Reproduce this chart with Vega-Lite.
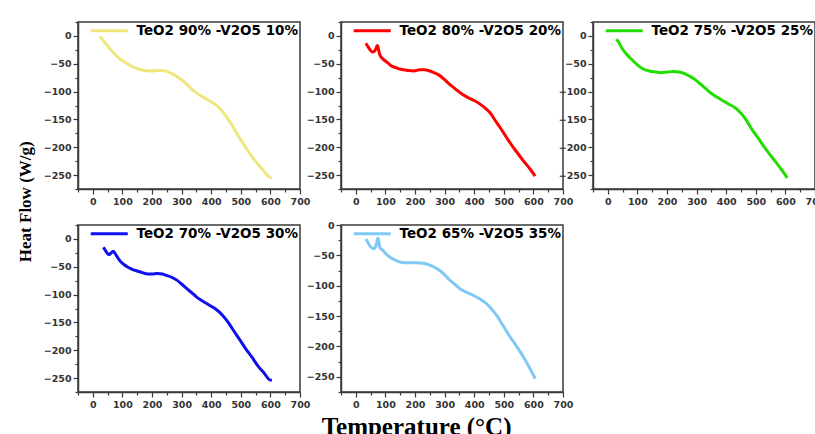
{
  "$schema": "https://vega.github.io/schema/vega-lite/v6.json",
  "background": "white",
  "padding": {"left": 17, "top": 16, "right": 0, "bottom": 0},
  "config": {
    "view": {"stroke": "#3a3a3a", "strokeWidth": 1.5},
    "axis": {"grid": false, "title": null, "domainColor": "#3a3a3a", "domainWidth": 1.5, "tickColor": "#3a3a3a", "tickWidth": 1.2, "labelFont": "DejaVu Sans", "labelFontWeight": "bold", "labelFontSize": 9.5, "labelColor": "#333", "labelPadding": 2, "labelFlush": false, "labelOverlap": false},
    "legend": {"orient": "top-right", "offset": 2, "padding": 0, "symbolType": "M-1,0H6.4", "symbolSize": 100, "symbolStrokeWidth": 3, "labelFont": "DejaVu Sans", "labelFontWeight": "bold", "labelFontSize": 13.5, "labelColor": "black", "labelOffset": 34, "labelLimit": 400}
  },
  "data": {"values": [
    {"s": "TeO2 90% -V2O5 10%", "T": 24, "V": -1},
    {"s": "TeO2 90% -V2O5 10%", "T": 35, "V": -8},
    {"s": "TeO2 90% -V2O5 10%", "T": 50, "V": -18},
    {"s": "TeO2 90% -V2O5 10%", "T": 63, "V": -26},
    {"s": "TeO2 90% -V2O5 10%", "T": 80, "V": -36},
    {"s": "TeO2 90% -V2O5 10%", "T": 107, "V": -47},
    {"s": "TeO2 90% -V2O5 10%", "T": 130, "V": -54},
    {"s": "TeO2 90% -V2O5 10%", "T": 151, "V": -59},
    {"s": "TeO2 90% -V2O5 10%", "T": 175, "V": -62},
    {"s": "TeO2 90% -V2O5 10%", "T": 200, "V": -63},
    {"s": "TeO2 90% -V2O5 10%", "T": 217, "V": -62},
    {"s": "TeO2 90% -V2O5 10%", "T": 235, "V": -62},
    {"s": "TeO2 90% -V2O5 10%", "T": 251, "V": -64},
    {"s": "TeO2 90% -V2O5 10%", "T": 275, "V": -70},
    {"s": "TeO2 90% -V2O5 10%", "T": 295, "V": -77},
    {"s": "TeO2 90% -V2O5 10%", "T": 320, "V": -88},
    {"s": "TeO2 90% -V2O5 10%", "T": 339, "V": -98},
    {"s": "TeO2 90% -V2O5 10%", "T": 360, "V": -106},
    {"s": "TeO2 90% -V2O5 10%", "T": 383, "V": -113},
    {"s": "TeO2 90% -V2O5 10%", "T": 405, "V": -120},
    {"s": "TeO2 90% -V2O5 10%", "T": 425, "V": -128},
    {"s": "TeO2 90% -V2O5 10%", "T": 449, "V": -143},
    {"s": "TeO2 90% -V2O5 10%", "T": 470, "V": -160},
    {"s": "TeO2 90% -V2O5 10%", "T": 490, "V": -178},
    {"s": "TeO2 90% -V2O5 10%", "T": 516, "V": -200},
    {"s": "TeO2 90% -V2O5 10%", "T": 535, "V": -215},
    {"s": "TeO2 90% -V2O5 10%", "T": 554, "V": -228},
    {"s": "TeO2 90% -V2O5 10%", "T": 575, "V": -241},
    {"s": "TeO2 90% -V2O5 10%", "T": 598, "V": -254},
    {"s": "TeO2 90% -V2O5 10%", "T": 605, "V": -255},

    {"s": "TeO2 80% -V2O5 20%", "T": 34, "V": -13},
    {"s": "TeO2 80% -V2O5 20%", "T": 42, "V": -20},
    {"s": "TeO2 80% -V2O5 20%", "T": 50, "V": -26},
    {"s": "TeO2 80% -V2O5 20%", "T": 56, "V": -29},
    {"s": "TeO2 80% -V2O5 20%", "T": 64, "V": -27},
    {"s": "TeO2 80% -V2O5 20%", "T": 70, "V": -20},
    {"s": "TeO2 80% -V2O5 20%", "T": 73, "V": -17},
    {"s": "TeO2 80% -V2O5 20%", "T": 77, "V": -25},
    {"s": "TeO2 80% -V2O5 20%", "T": 82, "V": -35},
    {"s": "TeO2 80% -V2O5 20%", "T": 95, "V": -43},
    {"s": "TeO2 80% -V2O5 20%", "T": 105, "V": -47},
    {"s": "TeO2 80% -V2O5 20%", "T": 118, "V": -53},
    {"s": "TeO2 80% -V2O5 20%", "T": 135, "V": -57},
    {"s": "TeO2 80% -V2O5 20%", "T": 152, "V": -60},
    {"s": "TeO2 80% -V2O5 20%", "T": 175, "V": -62},
    {"s": "TeO2 80% -V2O5 20%", "T": 196, "V": -63},
    {"s": "TeO2 80% -V2O5 20%", "T": 215, "V": -61},
    {"s": "TeO2 80% -V2O5 20%", "T": 230, "V": -61},
    {"s": "TeO2 80% -V2O5 20%", "T": 250, "V": -63},
    {"s": "TeO2 80% -V2O5 20%", "T": 264, "V": -66},
    {"s": "TeO2 80% -V2O5 20%", "T": 280, "V": -70},
    {"s": "TeO2 80% -V2O5 20%", "T": 297, "V": -77},
    {"s": "TeO2 80% -V2O5 20%", "T": 315, "V": -86},
    {"s": "TeO2 80% -V2O5 20%", "T": 331, "V": -93},
    {"s": "TeO2 80% -V2O5 20%", "T": 355, "V": -103},
    {"s": "TeO2 80% -V2O5 20%", "T": 376, "V": -110},
    {"s": "TeO2 80% -V2O5 20%", "T": 400, "V": -116},
    {"s": "TeO2 80% -V2O5 20%", "T": 421, "V": -123},
    {"s": "TeO2 80% -V2O5 20%", "T": 440, "V": -131},
    {"s": "TeO2 80% -V2O5 20%", "T": 455, "V": -139},
    {"s": "TeO2 80% -V2O5 20%", "T": 470, "V": -151},
    {"s": "TeO2 80% -V2O5 20%", "T": 488, "V": -165},
    {"s": "TeO2 80% -V2O5 20%", "T": 510, "V": -183},
    {"s": "TeO2 80% -V2O5 20%", "T": 533, "V": -201},
    {"s": "TeO2 80% -V2O5 20%", "T": 550, "V": -213},
    {"s": "TeO2 80% -V2O5 20%", "T": 567, "V": -225},
    {"s": "TeO2 80% -V2O5 20%", "T": 590, "V": -240},
    {"s": "TeO2 80% -V2O5 20%", "T": 606, "V": -252},

    {"s": "TeO2 75% -V2O5 25%", "T": 29, "V": -6},
    {"s": "TeO2 75% -V2O5 25%", "T": 35, "V": -10},
    {"s": "TeO2 75% -V2O5 25%", "T": 49, "V": -23},
    {"s": "TeO2 75% -V2O5 25%", "T": 65, "V": -34},
    {"s": "TeO2 75% -V2O5 25%", "T": 84, "V": -44},
    {"s": "TeO2 75% -V2O5 25%", "T": 100, "V": -52},
    {"s": "TeO2 75% -V2O5 25%", "T": 118, "V": -59},
    {"s": "TeO2 75% -V2O5 25%", "T": 140, "V": -63},
    {"s": "TeO2 75% -V2O5 25%", "T": 164, "V": -65},
    {"s": "TeO2 75% -V2O5 25%", "T": 178, "V": -66},
    {"s": "TeO2 75% -V2O5 25%", "T": 200, "V": -65},
    {"s": "TeO2 75% -V2O5 25%", "T": 222, "V": -64},
    {"s": "TeO2 75% -V2O5 25%", "T": 240, "V": -65},
    {"s": "TeO2 75% -V2O5 25%", "T": 256, "V": -67},
    {"s": "TeO2 75% -V2O5 25%", "T": 275, "V": -72},
    {"s": "TeO2 75% -V2O5 25%", "T": 291, "V": -77},
    {"s": "TeO2 75% -V2O5 25%", "T": 310, "V": -85},
    {"s": "TeO2 75% -V2O5 25%", "T": 325, "V": -92},
    {"s": "TeO2 75% -V2O5 25%", "T": 342, "V": -100},
    {"s": "TeO2 75% -V2O5 25%", "T": 360, "V": -107},
    {"s": "TeO2 75% -V2O5 25%", "T": 385, "V": -115},
    {"s": "TeO2 75% -V2O5 25%", "T": 406, "V": -122},
    {"s": "TeO2 75% -V2O5 25%", "T": 430, "V": -129},
    {"s": "TeO2 75% -V2O5 25%", "T": 452, "V": -140},
    {"s": "TeO2 75% -V2O5 25%", "T": 470, "V": -153},
    {"s": "TeO2 75% -V2O5 25%", "T": 486, "V": -167},
    {"s": "TeO2 75% -V2O5 25%", "T": 510, "V": -185},
    {"s": "TeO2 75% -V2O5 25%", "T": 532, "V": -202},
    {"s": "TeO2 75% -V2O5 25%", "T": 555, "V": -218},
    {"s": "TeO2 75% -V2O5 25%", "T": 578, "V": -234},
    {"s": "TeO2 75% -V2O5 25%", "T": 595, "V": -246},
    {"s": "TeO2 75% -V2O5 25%", "T": 606, "V": -255},

    {"s": "TeO2 70% -V2O5 30%", "T": 36, "V": -15},
    {"s": "TeO2 70% -V2O5 30%", "T": 44, "V": -22},
    {"s": "TeO2 70% -V2O5 30%", "T": 51, "V": -27},
    {"s": "TeO2 70% -V2O5 30%", "T": 56, "V": -28},
    {"s": "TeO2 70% -V2O5 30%", "T": 62, "V": -25},
    {"s": "TeO2 70% -V2O5 30%", "T": 69, "V": -22},
    {"s": "TeO2 70% -V2O5 30%", "T": 75, "V": -26},
    {"s": "TeO2 70% -V2O5 30%", "T": 80, "V": -30},
    {"s": "TeO2 70% -V2O5 30%", "T": 91, "V": -39},
    {"s": "TeO2 70% -V2O5 30%", "T": 105, "V": -46},
    {"s": "TeO2 70% -V2O5 30%", "T": 119, "V": -51},
    {"s": "TeO2 70% -V2O5 30%", "T": 135, "V": -55},
    {"s": "TeO2 70% -V2O5 30%", "T": 152, "V": -58},
    {"s": "TeO2 70% -V2O5 30%", "T": 170, "V": -61},
    {"s": "TeO2 70% -V2O5 30%", "T": 185, "V": -63},
    {"s": "TeO2 70% -V2O5 30%", "T": 200, "V": -63},
    {"s": "TeO2 70% -V2O5 30%", "T": 218, "V": -62},
    {"s": "TeO2 70% -V2O5 30%", "T": 235, "V": -63},
    {"s": "TeO2 70% -V2O5 30%", "T": 251, "V": -66},
    {"s": "TeO2 70% -V2O5 30%", "T": 267, "V": -69},
    {"s": "TeO2 70% -V2O5 30%", "T": 284, "V": -74},
    {"s": "TeO2 70% -V2O5 30%", "T": 300, "V": -81},
    {"s": "TeO2 70% -V2O5 30%", "T": 317, "V": -89},
    {"s": "TeO2 70% -V2O5 30%", "T": 335, "V": -97},
    {"s": "TeO2 70% -V2O5 30%", "T": 350, "V": -104},
    {"s": "TeO2 70% -V2O5 30%", "T": 372, "V": -112},
    {"s": "TeO2 70% -V2O5 30%", "T": 394, "V": -119},
    {"s": "TeO2 70% -V2O5 30%", "T": 415, "V": -126},
    {"s": "TeO2 70% -V2O5 30%", "T": 438, "V": -137},
    {"s": "TeO2 70% -V2O5 30%", "T": 455, "V": -148},
    {"s": "TeO2 70% -V2O5 30%", "T": 471, "V": -161},
    {"s": "TeO2 70% -V2O5 30%", "T": 495, "V": -180},
    {"s": "TeO2 70% -V2O5 30%", "T": 515, "V": -196},
    {"s": "TeO2 70% -V2O5 30%", "T": 537, "V": -212},
    {"s": "TeO2 70% -V2O5 30%", "T": 559, "V": -229},
    {"s": "TeO2 70% -V2O5 30%", "T": 580, "V": -242},
    {"s": "TeO2 70% -V2O5 30%", "T": 597, "V": -253},
    {"s": "TeO2 70% -V2O5 30%", "T": 605, "V": -254},

    {"s": "TeO2 65% -V2O5 35%", "T": 34, "V": -23},
    {"s": "TeO2 65% -V2O5 35%", "T": 40, "V": -28},
    {"s": "TeO2 65% -V2O5 35%", "T": 47, "V": -34},
    {"s": "TeO2 65% -V2O5 35%", "T": 55, "V": -38},
    {"s": "TeO2 65% -V2O5 35%", "T": 61, "V": -39},
    {"s": "TeO2 65% -V2O5 35%", "T": 67, "V": -36},
    {"s": "TeO2 65% -V2O5 35%", "T": 71, "V": -28},
    {"s": "TeO2 65% -V2O5 35%", "T": 74, "V": -22},
    {"s": "TeO2 65% -V2O5 35%", "T": 77, "V": -24},
    {"s": "TeO2 65% -V2O5 35%", "T": 81, "V": -37},
    {"s": "TeO2 65% -V2O5 35%", "T": 92, "V": -42},
    {"s": "TeO2 65% -V2O5 35%", "T": 103, "V": -48},
    {"s": "TeO2 65% -V2O5 35%", "T": 115, "V": -53},
    {"s": "TeO2 65% -V2O5 35%", "T": 130, "V": -57},
    {"s": "TeO2 65% -V2O5 35%", "T": 149, "V": -61},
    {"s": "TeO2 65% -V2O5 35%", "T": 165, "V": -62},
    {"s": "TeO2 65% -V2O5 35%", "T": 183, "V": -62},
    {"s": "TeO2 65% -V2O5 35%", "T": 205, "V": -62},
    {"s": "TeO2 65% -V2O5 35%", "T": 228, "V": -63},
    {"s": "TeO2 65% -V2O5 35%", "T": 250, "V": -66},
    {"s": "TeO2 65% -V2O5 35%", "T": 267, "V": -70},
    {"s": "TeO2 65% -V2O5 35%", "T": 284, "V": -75},
    {"s": "TeO2 65% -V2O5 35%", "T": 300, "V": -82},
    {"s": "TeO2 65% -V2O5 35%", "T": 318, "V": -91},
    {"s": "TeO2 65% -V2O5 35%", "T": 335, "V": -98},
    {"s": "TeO2 65% -V2O5 35%", "T": 352, "V": -105},
    {"s": "TeO2 65% -V2O5 35%", "T": 375, "V": -111},
    {"s": "TeO2 65% -V2O5 35%", "T": 397, "V": -116},
    {"s": "TeO2 65% -V2O5 35%", "T": 420, "V": -122},
    {"s": "TeO2 65% -V2O5 35%", "T": 442, "V": -130},
    {"s": "TeO2 65% -V2O5 35%", "T": 460, "V": -139},
    {"s": "TeO2 65% -V2O5 35%", "T": 476, "V": -149},
    {"s": "TeO2 65% -V2O5 35%", "T": 498, "V": -166},
    {"s": "TeO2 65% -V2O5 35%", "T": 521, "V": -184},
    {"s": "TeO2 65% -V2O5 35%", "T": 545, "V": -201},
    {"s": "TeO2 65% -V2O5 35%", "T": 566, "V": -217},
    {"s": "TeO2 65% -V2O5 35%", "T": 590, "V": -238},
    {"s": "TeO2 65% -V2O5 35%", "T": 606, "V": -253}
  ]},
  "title": {"text": "Temperature (°C)", "orient": "bottom", "anchor": "middle", "font": "Liberation Serif", "fontSize": 25, "fontWeight": "bold", "color": "black", "offset": 6, "dx": -5},
  "resolve": {"scale": {"color": "independent"}, "legend": {"color": "independent"}},
  "vconcat": [
    {
      "title": {"text": "Heat Flow (W/g)", "orient": "left", "anchor": "middle", "font": "Liberation Serif", "fontSize": 17, "fontWeight": "bold", "color": "black", "offset": 7, "dx": 11},
      "spacing": 12,
      "resolve": {"scale": {"color": "independent"}, "legend": {"color": "independent"}},
      "vconcat": [
        {
          "bounds": "flush",
          "spacing": 41,
          "resolve": {"scale": {"color": "independent"}, "legend": {"color": "independent"}},
          "hconcat": [
            {
              "width": 222, "height": 167,
              "transform": [{"filter": "datum.s === 'TeO2 90% -V2O5 10%'"}],
              "mark": {"type": "line", "strokeWidth": 3, "interpolate": "monotone"},
              "encoding": {
                "x": {"field": "T", "type": "quantitative", "scale": {"domain": [-50, 700], "nice": false, "zero": false}, "axis": {"values": [-50, 0, 50, 100, 150, 200, 250, 300, 350, 400, 450, 500, 550, 600, 650, 700], "labelExpr": "datum.value % 100 === 0 && datum.value >= 0 ? datum.label : ''", "tickSize": {"condition": {"test": "datum.value % 100 === 0", "value": 5}, "value": 3}}},
                "y": {"field": "V", "type": "quantitative", "scale": {"domain": [-275, 25], "nice": false, "zero": false}, "axis": {"values": [-275, -250, -225, -200, -175, -150, -125, -100, -75, -50, -25, 0, 25], "labelExpr": "datum.value % 50 === 0 && datum.value <= 0 ? datum.label : ''", "tickSize": {"condition": {"test": "datum.value % 50 === 0", "value": 5}, "value": 3}}},
                "color": {"field": "s", "type": "nominal", "scale": {"domain": ["TeO2 90% -V2O5 10%"], "range": ["#EFE67E"]}, "legend": {"title": null}}
              }
            },
            {
              "bounds": "flush",
              "spacing": 30,
              "resolve": {"scale": {"color": "independent"}, "legend": {"color": "independent"}},
              "hconcat": [
                {
                  "width": 222, "height": 167,
                  "transform": [{"filter": "datum.s === 'TeO2 80% -V2O5 20%'"}],
                  "mark": {"type": "line", "strokeWidth": 3, "interpolate": "monotone"},
                  "encoding": {
                    "x": {"field": "T", "type": "quantitative", "scale": {"domain": [-50, 700], "nice": false, "zero": false}, "axis": {"values": [-50, 0, 50, 100, 150, 200, 250, 300, 350, 400, 450, 500, 550, 600, 650, 700], "labelExpr": "datum.value % 100 === 0 && datum.value >= 0 ? datum.label : ''", "tickSize": {"condition": {"test": "datum.value % 100 === 0", "value": 5}, "value": 3}}},
                    "y": {"field": "V", "type": "quantitative", "scale": {"domain": [-275, 25], "nice": false, "zero": false}, "axis": {"values": [-275, -250, -225, -200, -175, -150, -125, -100, -75, -50, -25, 0, 25], "labelExpr": "datum.value % 50 === 0 && datum.value <= 0 ? datum.label : ''", "tickSize": {"condition": {"test": "datum.value % 50 === 0", "value": 5}, "value": 3}}},
                    "color": {"field": "s", "type": "nominal", "scale": {"domain": ["TeO2 80% -V2O5 20%"], "range": ["#FF0000"]}, "legend": {"title": null}}
                  }
                },
                {
                  "width": 222, "height": 167,
                  "transform": [{"filter": "datum.s === 'TeO2 75% -V2O5 25%'"}],
                  "mark": {"type": "line", "strokeWidth": 3, "interpolate": "monotone"},
                  "encoding": {
                    "x": {"field": "T", "type": "quantitative", "scale": {"domain": [-50, 700], "nice": false, "zero": false}, "axis": {"values": [-50, 0, 50, 100, 150, 200, 250, 300, 350, 400, 450, 500, 550, 600, 650, 700], "labelExpr": "datum.value % 100 === 0 && datum.value >= 0 ? datum.label : ''", "tickSize": {"condition": {"test": "datum.value % 100 === 0", "value": 5}, "value": 3}}},
                    "y": {"field": "V", "type": "quantitative", "scale": {"domain": [-275, 25], "nice": false, "zero": false}, "axis": {"values": [-275, -250, -225, -200, -175, -150, -125, -100, -75, -50, -25, 0, 25], "labelExpr": "datum.value % 50 === 0 && datum.value <= 0 ? datum.label : ''", "tickSize": {"condition": {"test": "datum.value % 50 === 0", "value": 5}, "value": 3}}},
                    "color": {"field": "s", "type": "nominal", "scale": {"domain": ["TeO2 75% -V2O5 25%"], "range": ["#22DD00"]}, "legend": {"title": null}}
                  }
                }
              ]
            }
          ]
        },
        {
          "bounds": "flush",
          "spacing": 41,
          "resolve": {"scale": {"color": "independent"}, "legend": {"color": "independent"}},
          "hconcat": [
            {
              "width": 222, "height": 167,
              "transform": [{"filter": "datum.s === 'TeO2 70% -V2O5 30%'"}],
              "mark": {"type": "line", "strokeWidth": 3, "interpolate": "monotone"},
              "encoding": {
                "x": {"field": "T", "type": "quantitative", "scale": {"domain": [-50, 700], "nice": false, "zero": false}, "axis": {"values": [-50, 0, 50, 100, 150, 200, 250, 300, 350, 400, 450, 500, 550, 600, 650, 700], "labelExpr": "datum.value % 100 === 0 && datum.value >= 0 ? datum.label : ''", "tickSize": {"condition": {"test": "datum.value % 100 === 0", "value": 5}, "value": 3}}},
                "y": {"field": "V", "type": "quantitative", "scale": {"domain": [-275, 25], "nice": false, "zero": false}, "axis": {"values": [-275, -250, -225, -200, -175, -150, -125, -100, -75, -50, -25, 0, 25], "labelExpr": "datum.value % 50 === 0 && datum.value <= 0 ? datum.label : ''", "tickSize": {"condition": {"test": "datum.value % 50 === 0", "value": 5}, "value": 3}}},
                "color": {"field": "s", "type": "nominal", "scale": {"domain": ["TeO2 70% -V2O5 30%"], "range": ["#1010EE"]}, "legend": {"title": null}}
              }
            },
            {
              "width": 222, "height": 167,
              "transform": [{"filter": "datum.s === 'TeO2 65% -V2O5 35%'"}],
              "mark": {"type": "line", "strokeWidth": 3, "interpolate": "monotone"},
              "encoding": {
                "x": {"field": "T", "type": "quantitative", "scale": {"domain": [-50, 700], "nice": false, "zero": false}, "axis": {"values": [-50, 0, 50, 100, 150, 200, 250, 300, 350, 400, 450, 500, 550, 600, 650, 700], "labelExpr": "datum.value % 100 === 0 && datum.value >= 0 ? datum.label : ''", "tickSize": {"condition": {"test": "datum.value % 100 === 0", "value": 5}, "value": 3}}},
                "y": {"field": "V", "type": "quantitative", "scale": {"domain": [-275, 0], "nice": false, "zero": false}, "axis": {"values": [-275, -250, -225, -200, -175, -150, -125, -100, -75, -50, -25, 0], "labelExpr": "datum.value % 50 === 0 ? datum.label : ''", "tickSize": {"condition": {"test": "datum.value % 50 === 0", "value": 5}, "value": 3}}},
                "color": {"field": "s", "type": "nominal", "scale": {"domain": ["TeO2 65% -V2O5 35%"], "range": ["#80C8F6"]}, "legend": {"title": null}}
              }
            }
          ]
        }
      ]
    }
  ]
}
